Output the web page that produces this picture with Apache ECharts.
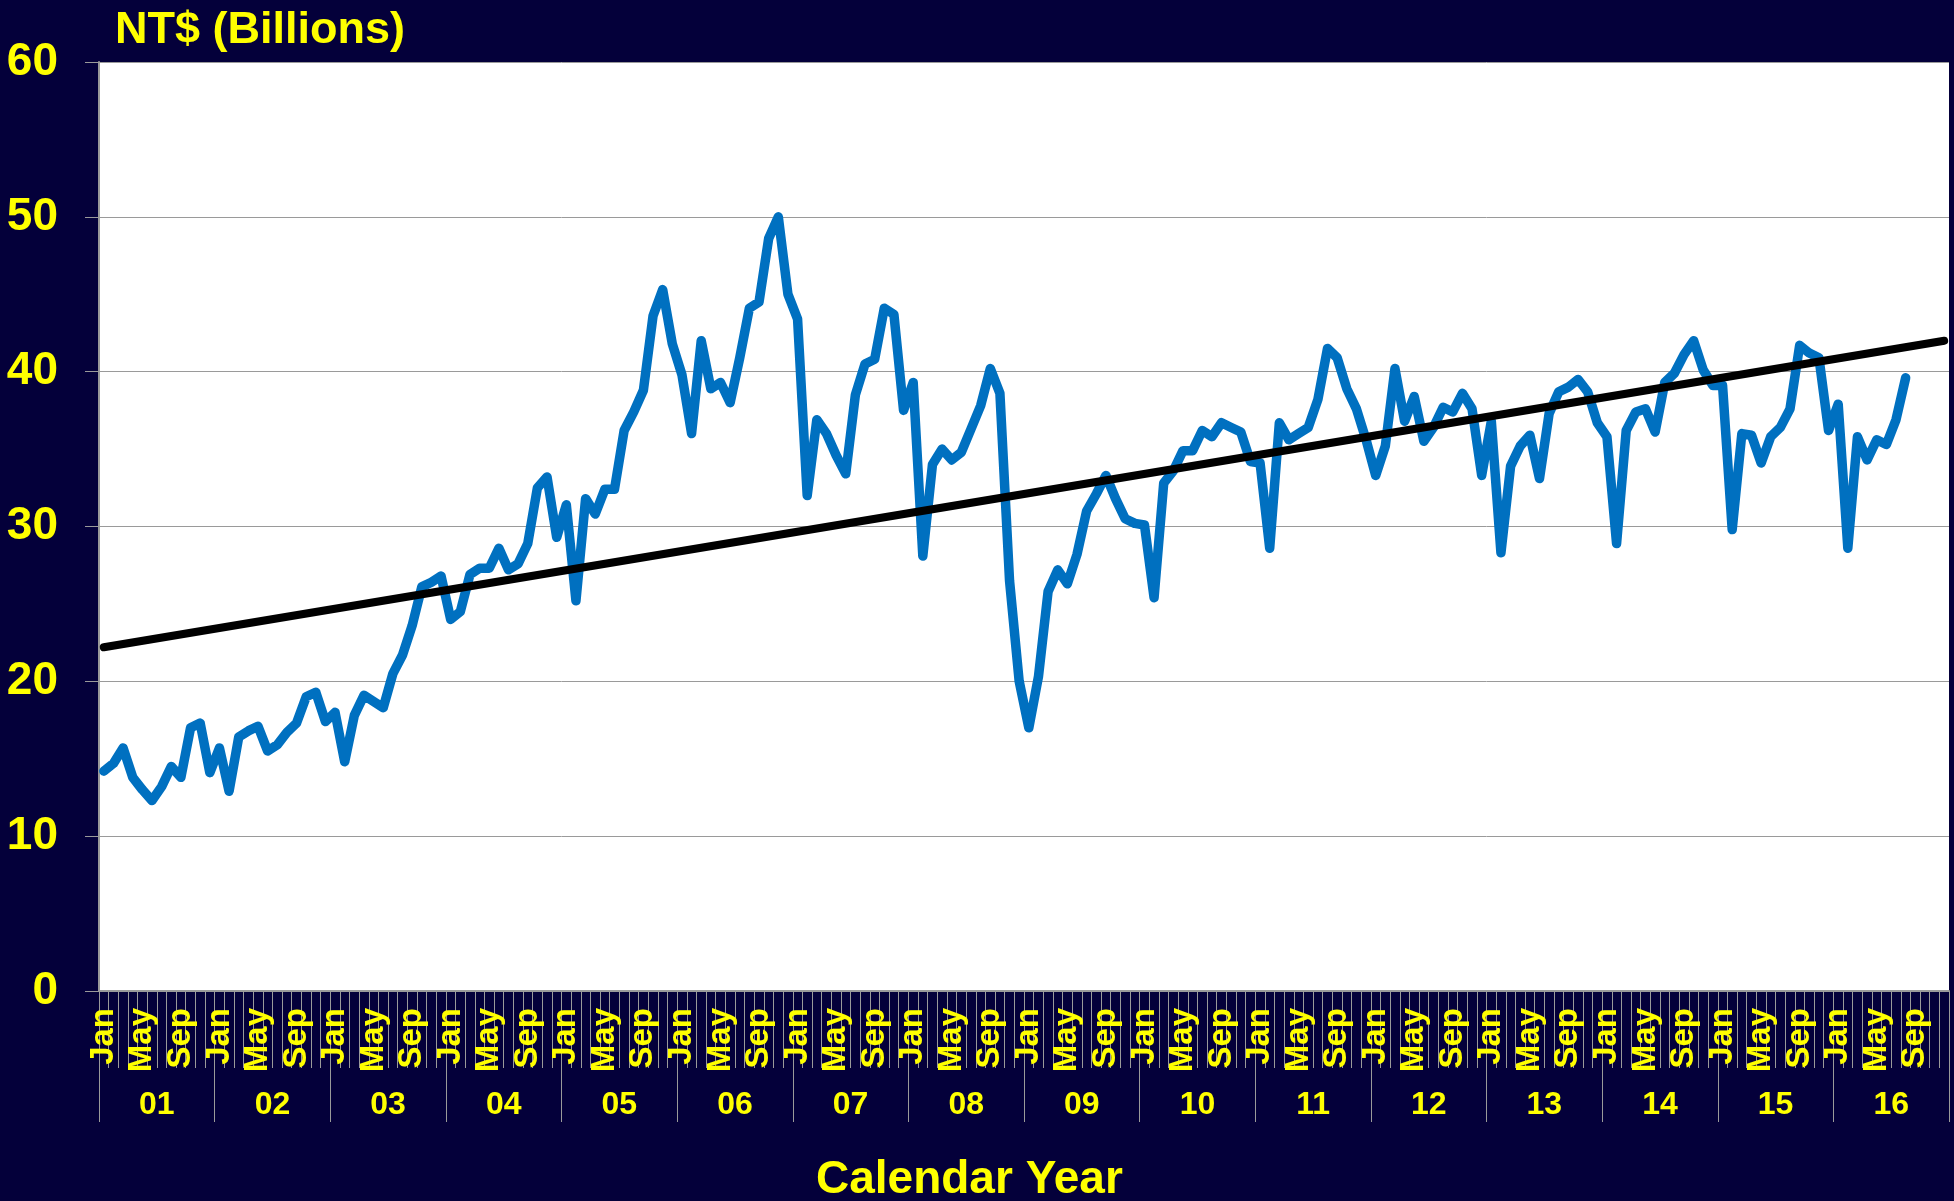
<!DOCTYPE html>
<html>
<head>
<meta charset="utf-8">
<script src="https://cdn.jsdelivr.net/npm/echarts@6/dist/echarts.min.js"></script>
<style>
html,body{margin:0;padding:0;background:#04003a;}
#chart{width:1954px;height:1201px;}
</style>
</head>
<body>
<div id="chart"></div>
<script>
// ---- data ----
const monthNames = ['Jan','Feb','Mar','Apr','May','Jun','Jul','Aug','Sep','Oct','Nov','Dec'];
const yearLabels = ['01','02','03','04','05','06','07','08','09','10','11','12','13','14','15','16'];
const yTicks = [0, 10, 20, 30, 40, 50, 60];
// Monthly values, NT$ billions, Jan 2001 .. Aug 2016
const values = [
  14.2, 14.7, 15.7, 13.8, 13.0, 12.3, 13.2, 14.5, 13.8, 17.0, 17.3, 14.1,
  15.7, 12.9, 16.4, 16.8, 17.1, 15.5, 15.9, 16.7, 17.3, 19.0, 19.3, 17.4,
  18.0, 14.8, 17.8, 19.1, 18.7, 18.3, 20.5, 21.7, 23.6, 26.1, 26.4, 26.8,
  24.0, 24.5, 26.9, 27.3, 27.3, 28.6, 27.2, 27.6, 28.9, 32.5, 33.2, 29.3,
  31.4, 25.2, 31.8, 30.8, 32.4, 32.4, 36.2, 37.4, 38.8, 43.6, 45.3, 41.8,
  39.8, 36.0, 42.0, 38.9, 39.3, 38.0, 40.9, 44.1, 44.5, 48.6, 50.0, 45.0,
  43.4, 32.0, 36.9, 36.0, 34.6, 33.4, 38.5, 40.5, 40.8, 44.1, 43.7, 37.5,
  39.3, 28.1, 34.0, 35.0, 34.3, 34.8, 36.3, 37.8, 40.2, 38.6, 26.5, 20.0,
  17.0, 20.3, 25.8, 27.2, 26.3, 28.2, 31.0, 32.1, 33.3, 31.8, 30.5, 30.2,
  30.1, 25.4, 32.8, 33.6, 34.9, 34.9, 36.2, 35.8, 36.7, 36.4, 36.1, 34.2,
  34.1, 28.6, 36.7, 35.6, 36.0, 36.4, 38.2, 41.5, 40.9, 38.9, 37.6, 35.6,
  33.3, 35.2, 40.2, 36.8, 38.4, 35.5, 36.4, 37.7, 37.4, 38.6, 37.6, 33.3,
  36.8, 28.3, 33.9, 35.2, 35.9, 33.1, 37.3, 38.7, 39.0, 39.5, 38.7, 36.7,
  35.8, 28.9, 36.2, 37.4, 37.6, 36.1, 39.3, 39.9, 41.1, 42.0, 40.1, 39.1,
  39.1, 29.8, 36.0, 35.9, 34.1, 35.8, 36.4, 37.6, 41.7, 41.2, 40.9, 36.2,
  37.9, 28.6, 35.8, 34.3, 35.6, 35.3, 36.9, 39.6
];
// Trend line end values (Jan 2001 and Dec 2016)
const trendStart = 22.2;
const trendEnd = 42.0;

// ---- build categories ----
const categories = [];
yearLabels.forEach(y => monthNames.forEach(m => categories.push(m + ' ' + y)));
const lastIdx = categories.length - 1;

const YELLOW = '#ffff00';
const GREY = '#9a9a9a';
const FONT = "'Liberation Sans', Arial, sans-serif";
const NARROW = "'Liberation Sans Narrow', 'Arial Narrow', 'Liberation Sans', Arial, sans-serif";

const chart = echarts.init(document.getElementById('chart'), null, {renderer: 'canvas'});
chart.setOption({
  animation: false,
  backgroundColor: '#04003a',
  grid: {left: 99, right: 5, top: 62, bottom: 210, show: true, backgroundColor: '#ffffff', borderWidth: 0},
  graphic: [
    {type: 'text', left: 115, top: 8, style: {text: 'NT$ (Billions)', fill: YELLOW, font: 'bold 45px ' + FONT}},
    {type: 'text', left: 816, top: 1157, style: {text: 'Calendar Year', fill: YELLOW, font: 'bold 46px ' + FONT}}
  ],
  xAxis: [
    {
      type: 'category', data: categories, boundaryGap: true, position: 'bottom',
      axisLine: {show: true, lineStyle: {color: GREY, width: 2}},
      axisTick: {show: true, interval: 0, length: 77, lineStyle: {color: GREY, width: 1}},
      axisLabel: {
        show: true, rotate: 90, margin: 17, color: YELLOW, fontFamily: NARROW, fontWeight: 'bold', fontSize: 33,
        interval: function (i) { return i % 4 === 0; },
        formatter: function (v) { return v.split(' ')[0]; }
      },
      splitLine: {show: false}
    },
    {
      type: 'category', data: yearLabels, boundaryGap: true, position: 'bottom', gridIndex: 0,
      axisLine: {show: false},
      axisTick: {show: true, interval: 0, length: 131, lineStyle: {color: GREY, width: 1}},
      axisLabel: {show: true, interval: 0, margin: 98, color: YELLOW, fontFamily: NARROW, fontWeight: 'bold', fontSize: 32},
      splitLine: {show: false}
    }
  ],
  yAxis: {
    type: 'value', min: yTicks[0], max: yTicks[yTicks.length - 1], interval: 10,
    axisLine: {show: true, lineStyle: {color: GREY, width: 2}},
    axisTick: {show: true, length: 14, lineStyle: {color: GREY, width: 1}},
    axisLabel: {color: YELLOW, fontFamily: FONT, fontWeight: 'bold', fontSize: 46, margin: 41},
    splitLine: {show: true, lineStyle: {color: GREY, width: 1}}
  },
  series: [
    {
      type: 'line', xAxisIndex: 0, data: values, showSymbol: false, symbol: 'none',
      lineStyle: {color: '#0070c0', width: 9.5, join: 'round', cap: 'round'}, z: 2
    },
    {
      type: 'line', xAxisIndex: 0, data: [[0, trendStart], [lastIdx, trendEnd]], showSymbol: false, symbol: 'none',
      lineStyle: {color: '#000000', width: 8, cap: 'round'}, z: 3
    }
  ]
});
</script>
</body>
</html>
